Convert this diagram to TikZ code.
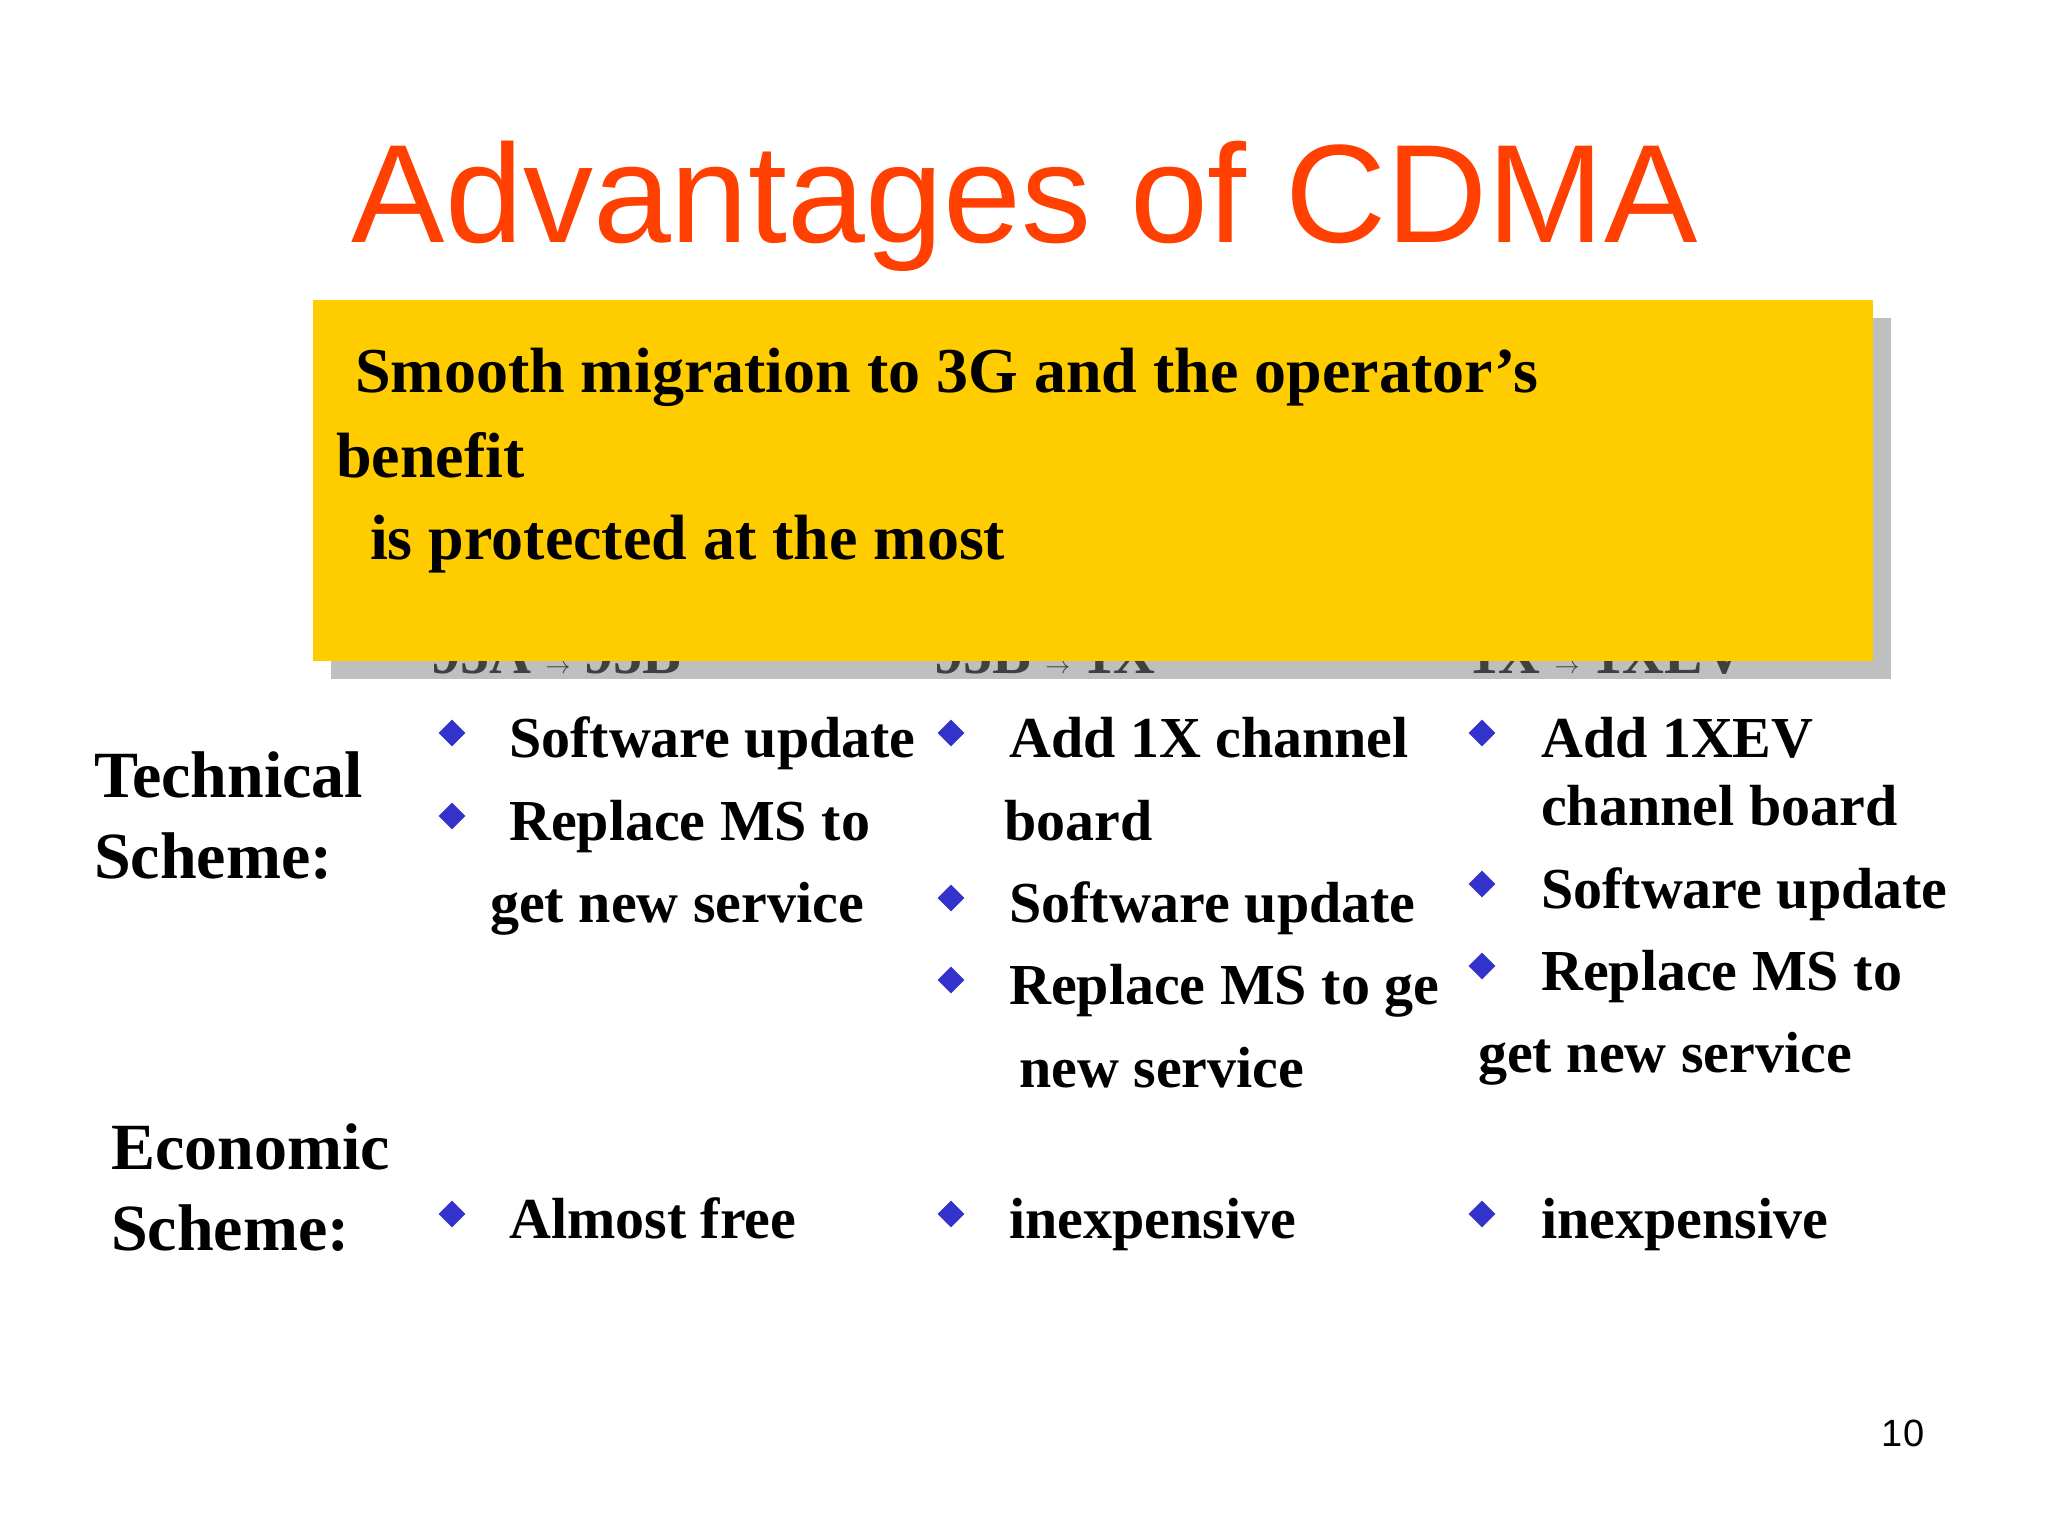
\documentclass[tikz,border=0pt]{standalone}
\usepackage{fontspec}
\setmainfont{Liberation Serif}
\newfontfamily\titlefont{Liberation Sans}
\definecolor{titlered}{RGB}{255,64,0}
\definecolor{boxyellow}{RGB}{255,204,0}
\definecolor{bulblue}{RGB}{51,51,204}
\begin{document}
\begin{tikzpicture}[x=1pt,y=-1pt,
  txt/.style={anchor=base west,inner sep=0pt,font=\fontsize{58}{60}\selectfont\bfseries},
  boxtxt/.style={anchor=base west,inner sep=0pt,font=\fontsize{64}{66}\selectfont\bfseries},
  hdr/.style={anchor=base west,inner sep=0pt,text=black!75,font=\fontsize{58}{60}\selectfont\bfseries},
  bul/.style={fill=bulblue,draw=none,minimum size=19pt,inner sep=0pt,rotate=45}]
\useasboundingbox (0,0) rectangle (2048,1536);
\fill[white] (0,0) rectangle (2048,1536);
\node[anchor=base,inner sep=0pt,text=titlered,font=\fontsize{140}{140}\selectfont\titlefont] (title) at (1025,242) {Advantages of CDMA};
% shadow and hidden headers
\fill[black!25] (331,318) rectangle (1891,679);
\node[hdr] (h1) at (431,673) {95A $\rightarrow$ 95B};
\node[hdr] (h2) at (934,673) {95B $\rightarrow$ 1X};
\node[hdr] (h3) at (1469,673) {1X $\rightarrow$ 1XEV};
\fill[boxyellow] (313,300) rectangle (1873,661);
\node[boxtxt] (b1) at (355,392) {Smooth migration to 3G and the operator’s};
\node[boxtxt] (b2) at (336,477) {benefit};
\node[boxtxt] (b3) at (370,559) {is protected at the most};
% row labels
\node[txt,font=\fontsize{66}{66}\selectfont\bfseries] (t1) at (94,797) {Technical};
\node[txt,font=\fontsize{66}{66}\selectfont\bfseries] (t2) at (94,878) {Scheme:};
\node[txt,font=\fontsize{66}{66}\selectfont\bfseries] (e1) at (111,1169) {Economic};
\node[txt,font=\fontsize{66}{66}\selectfont\bfseries] (e2) at (111,1250) {Scheme:};
% column 1
\node[bul] (d11) at (452,733) {};
\node[txt] (c11) at (509,757) {Software update};
\node[bul] (d12) at (452,816) {};
\node[txt] (c12) at (509,840) {Replace MS to};
\node[txt] (c13) at (490,922) {get new service};
% column 2
\node[bul] (d21) at (951,733) {};
\node[txt] (c21) at (1009,757) {Add 1X channel};
\node[txt] (c22) at (1004,840) {board};
\node[bul] (d23) at (951,898) {};
\node[txt] (c23) at (1009,922) {Software update};
\node[bul] (d24) at (951,980) {};
\node[txt] (c24) at (1009,1004) {Replace MS to ge};
\node[txt] (c25) at (1019,1087) {new service};
% column 3
\node[bul] (d31) at (1482,733) {};
\node[txt] (c31) at (1541,757) {Add 1XEV};
\node[txt] (c32) at (1541,825) {channel board};
\node[bul] (d33) at (1482,884) {};
\node[txt] (c33) at (1541,908) {Software update};
\node[bul] (d34) at (1482,966) {};
\node[txt] (c34) at (1541,990) {Replace MS to};
\node[txt] (c35) at (1478,1072) {get new service};
% economic
\node[bul] (d41) at (452,1214) {};
\node[txt] (c41) at (509,1238) {Almost free};
\node[bul] (d42) at (951,1214) {};
\node[txt] (c42) at (1009,1238) {inexpensive};
\node[bul] (d43) at (1482,1214) {};
\node[txt] (c43) at (1541,1238) {inexpensive};
\node[anchor=base,inner sep=0pt,font=\fontsize{38}{38}\selectfont\titlefont] (pg) at (1903,1446) {10};
\end{tikzpicture}
\end{document}
